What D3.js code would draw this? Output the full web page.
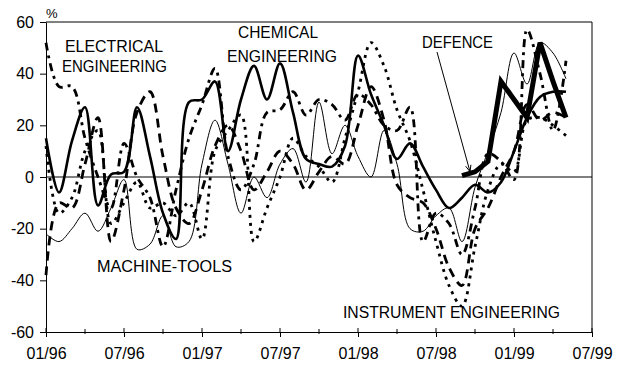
<!DOCTYPE html>
<html><head><meta charset="utf-8">
<script src="https://cdn.jsdelivr.net/npm/d3@7"></script>
<style>
body{margin:0;background:#fff}
svg{display:block}
text{font-family:"Liberation Sans",Arial,sans-serif;fill:#000}
</style>
</head><body>
<svg id="c" width="623" height="379"></svg>
<script>
// Monthly observations, Jan 1996 (index 0) .. May 1999 (index 40)
const monthLabels = ["01/96","02/96","03/96","04/96","05/96","06/96","07/96","08/96","09/96","10/96","11/96","12/96",
  "01/97","02/97","03/97","04/97","05/97","06/97","07/97","08/97","09/97","10/97","11/97","12/97",
  "01/98","02/98","03/98","04/98","05/98","06/98","07/98","08/98","09/98","10/98","11/98","12/98",
  "01/99","02/99","03/99","04/99","05/99"];
const chemical   = [15,-6,14,27,-11,1,2,27,8,-14,-24,29,30,37,10,30,43,30,44,25,7,5,4,12,47,32,20,7,13,4,-5,-12,-8,-3,-6,-2,10,23,31,33,33];
const machineTools = [-22,-25,-20,-14,-21,-12,-1,-28,-26,-15,-27,-25,5,22,5,-14,0,-8,5,11,-2,29,9,20,8,0,18,5,-20,-21,-15,-12,-25,-4,10,25,48,36,52,48,38];
const defence    = [null,null,null,null,null,null,null,null,null,null,null,null,null,null,null,null,null,null,null,null,null,null,null,null,null,null,null,null,null,null,null,null,0.5,2,6,37,30,23,52,37,23];
const electrical = [52,35,35,15,0,-12,13,0,-8,-27,-5,15,28,42,8,-5,5,25,26,33,24,30,28,22,32,28,20,18,27,-25,-14,-18,-30,-12,9,6,-1,57,40,18,45];
const instrument = [12,-14,-8,10,18,-18,-10,-2,-12,-10,-15,-10,-24,10,18,24,-25,-12,0,15,8,4,-2,15,33,52,43,26,14,-5,-25,-42,-50,-27,-5,5,2,22,23,20,16];
const otherEng   = [-38,-10,-12,5,23,-25,-5,25,33,8,-12,-18,-5,12,20,10,-5,2,10,5,-5,2,8,5,20,35,22,-3,-8,-10,-20,-35,-42,-20,-12,0,10,28,22,25,23];

const yTicks = [-60,-40,-20,0,20,40,60];
const xTickLabels = ["01/96","07/96","01/97","07/97","01/98","07/98","01/99","07/99"];
const xTickIdx = [0,6,12,18,24,30,36,42];
const xMinorIdx = [3,9,15,21,27,33,39];

const svg = d3.select("#c");
const L = 46, R = 592, T = 22, B = 332;
const x = d3.scaleLinear().domain([0,42]).range([L,R]);
const y = d3.scaleLinear().domain([-60,60]).range([B,T]);

// frame
svg.append("line").attr("x1",L).attr("x2",R).attr("y1",T).attr("y2",T).attr("stroke","#000");
svg.append("line").attr("x1",R).attr("x2",R).attr("y1",T).attr("y2",B).attr("stroke","#000");

// y axis
const ya = svg.append("g").attr("transform",`translate(${L},0)`)
  .call(d3.axisLeft(y).tickValues(yTicks).tickSize(6).tickSizeOuter(0).tickPadding(6).tickFormat(d=>String(d)));
ya.selectAll("text").style("font-size","16px").style("font-family",'"Liberation Sans",Arial,sans-serif');
ya.selectAll("path,line").attr("stroke","#000");

// x axis
const xa = svg.append("g").attr("transform",`translate(0,${B})`)
  .call(d3.axisBottom(x).tickValues(xTickIdx).tickSize(5).tickSizeOuter(0).tickPadding(11).tickFormat((d,i)=>xTickLabels[i]));
xa.selectAll("text").style("font-size","16px").style("font-family",'"Liberation Sans",Arial,sans-serif');
xa.selectAll("path,line").attr("stroke","#000");
svg.selectAll(".majup").data(xTickIdx).enter().append("line")
  .attr("x1",d=>x(d)).attr("x2",d=>x(d)).attr("y1",B-4).attr("y2",B).attr("stroke","#000");
svg.selectAll(".minor").data(xMinorIdx).enter().append("line")
  .attr("x1",d=>x(d)).attr("x2",d=>x(d)).attr("y1",B-3).attr("y2",B+2).attr("stroke","#000");

// zero line
svg.append("line").attr("x1",L).attr("x2",R).attr("y1",y(0)).attr("y2",y(0)).attr("stroke","#000");

// percent sign
svg.append("text").attr("x",46).attr("y",18).style("font-size","13px").text("%");

const smooth = d3.line().defined(d=>d!=null).x((d,i)=>x(i)).y(d=>y(d)).curve(d3.curveCatmullRom.alpha(0.5));
const straight = d3.line().defined(d=>d!=null).x((d,i)=>x(i)).y(d=>y(d));

const g = svg.append("g").attr("fill","none").attr("stroke","#000");
g.append("path").attr("d",smooth(machineTools)).attr("stroke-width",1);
g.append("path").attr("d",smooth(otherEng)).attr("stroke-width",2.8).attr("stroke-dasharray","9,6");
g.append("path").attr("d",smooth(instrument)).attr("stroke-width",2.8).attr("stroke-dasharray","3,5");
g.append("path").attr("d",smooth(electrical)).attr("stroke-width",2.8).attr("stroke-dasharray","8,5,3,5");
g.append("path").attr("d",smooth(chemical)).attr("stroke-width",2.6);
g.append("path").attr("d",straight(defence)).attr("stroke-width",5).attr("stroke-linejoin","miter");

// annotation labels
const notes = [
  {t:"ELECTRICAL", x:65, y:52, w:98},
  {t:"ENGINEERING", x:62, y:72, w:105},
  {t:"CHEMICAL", x:238, y:38, w:80},
  {t:"ENGINEERING", x:227, y:62, w:110},
  {t:"DEFENCE", x:422, y:48, w:71},
  {t:"MACHINE-TOOLS", x:97, y:272, w:135},
  {t:"INSTRUMENT ENGINEERING", x:343, y:318, w:217}
];
svg.selectAll(".note").data(notes).enter().append("text")
  .attr("x",d=>d.x).attr("y",d=>d.y).attr("textLength",d=>d.w).attr("lengthAdjust","spacingAndGlyphs")
  .style("font-size","16px").text(d=>d.t);

// arrow from DEFENCE label to start of defence line
const ax0 = 437, ay0 = 52, ax1 = x(32)+8, ay1 = y(0.5)-4;
svg.append("line").attr("x1",ax0).attr("y1",ay0).attr("x2",ax1).attr("y2",ay1).attr("stroke","#000").attr("stroke-width",1);
const ang = Math.atan2(ay1-ay0, ax1-ax0);
[0.4,-0.4].forEach(a=>{
  svg.append("line").attr("x1",ax1).attr("y1",ay1)
    .attr("x2",ax1-7*Math.cos(ang+a)).attr("y2",ay1-7*Math.sin(ang+a))
    .attr("stroke","#000").attr("stroke-width",1);
});
</script>
</body></html>
